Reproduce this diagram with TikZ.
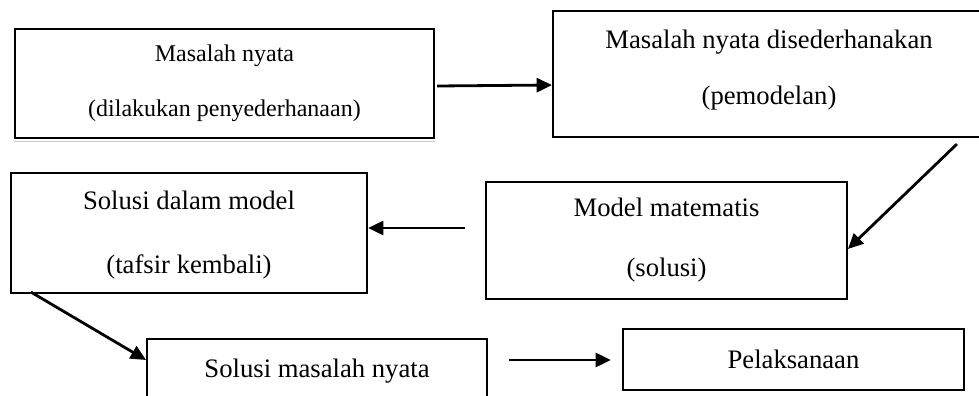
\documentclass[tikz,border=0pt]{standalone}
\usepackage{fontspec}
\setmainfont{Liberation Serif}
\usetikzlibrary{arrows.meta,calc}
\begin{document}
\begin{tikzpicture}[x=0.75pt,y=-0.75pt,
  box/.style={draw=black, line width=1.6pt, inner sep=0pt},
  twoline/.style={align=center},
  arr/.style={draw=black, line width=2.1pt, -{Triangle[length=11.5pt,width=10.5pt]}},
  fa/.style={font=\fontsize{18}{41.25}\selectfont},
  fb/.style={font=\fontsize{20}{42}\selectfont},
  fc/.style={font=\fontsize{20}{47.5}\selectfont},
  fd/.style={font=\fontsize{20}{45}\selectfont},
  shadowline/.style={draw=black!22, line width=1.2pt}]
\useasboundingbox (0,0) rectangle (979,396);
\clip (0,0) rectangle (979,396);
% boxes
\node[box, twoline, fa, minimum width=314.25pt, minimum height=81.75pt] (b1) at (224.5,83.5)
  {Masalah nyata\\(dilakukan penyederhanaan)};
\node[box, twoline, fb, minimum width=324pt, minimum height=94.5pt] (b2) at (769,74)
  {Masalah nyata disederhanakan\\(pemodelan)\rule[-10.3pt]{0pt}{10.3pt}};
\node[box, twoline, fc, minimum width=267pt, minimum height=90pt] (b3) at (189,233)
  {\rule{0pt}{17pt}Solusi dalam model\\(tafsir kembali)};
\node[box, twoline, fd, line width=1.3pt, minimum width=270.75pt, minimum height=87.75pt] (b4) at (666.5,240.5)
  {Model matematis\\(solusi)};
\node[box, font=\fontsize{20}{24}\selectfont, anchor=north west, minimum width=255pt,
  text height=28.5pt, text depth=37.5pt] (b5) at (146,338) {Solusi masalah nyata};
\node[box, font=\fontsize{20}{24}\selectfont, minimum width=255.75pt, minimum height=45.75pt] (b6) at (793.5,359.5)
  {Pelaksanaan};
% faint shadow under first box
\draw[shadowline] ($(b1.south west)+(0,2.5)$) -- ($(b1.south east)+(0,2.5)$);
% connectors
\draw[arr] ($(b1.east)+(2,2.5)$) -- ($(b2.west)+(0,11)$);
\draw[arr] ($(b2.south west)+(405,6)$) -- ($(b4.east)+(0,8.5)$);
\draw[arr] ($(b4.west)+(-20,-12.5)$) -- ($(b3.east)+(0,-5)$);
\draw[arr] ($(b3.south west)+(21,-2)$) -- ($(b5.north west)+(0,22)$);
\draw[arr] ($(b5.north east)+(21,22)$) -- ($(b6.west)+(-11,0.5)$);
\end{tikzpicture}
\end{document}
